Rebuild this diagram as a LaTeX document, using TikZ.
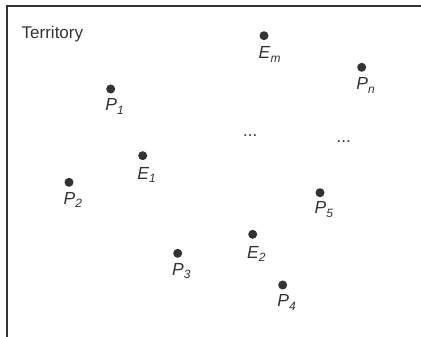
\documentclass[tikz,border=0pt]{standalone}
\usepackage{fontspec}
\setmainfont{Liberation Sans}
\definecolor{ink}{HTML}{333333}
\newcommand\ptlab[2]{\textit{#1}\raisebox{-3.5pt}{\fontsize{12}{12}\selectfont\textit{#2}}}
\begin{document}
\begin{tikzpicture}[x=1pt,y=-1pt,
  dot/.style={circle,fill=ink,inner sep=0pt,minimum size=9pt},
  lab/.style={text=ink,font=\fontsize{17.5}{19}\selectfont,inner sep=0pt,anchor=base west},
  frame/.style={draw=ink,line width=1.2pt}]
\useasboundingbox (0,0) rectangle (421,337);
\coordinate (fa) at (7,337);
\coordinate (fb) at (7,6);
\coordinate (fc) at (421,6);
\draw[frame] (fa) -- (fb) -- (fc);
\node[lab,font=\fontsize{17}{19}\selectfont] (terr) at (21.5,38.5) {Territory};
\node[dot] (Em) at (264,35.7) {};
\node[dot] (Pn) at (361.7,67.3) {};
\node[dot] (P1) at (110.7,89) {};
\node[dot] (E1) at (142.7,155.7) {};
\node[dot] (P2) at (69,182.3) {};
\node[dot] (P5) at (320,192.7) {};
\node[dot] (E2) at (252.7,234.3) {};
\node[dot] (P3) at (177.7,253.3) {};
\node[dot] (P4) at (282.7,285) {};
\node[lab] (Eml) at ([xshift=-5.5pt,yshift=-23pt]Em.center) {\ptlab{E}{m}};
\node[lab] (Pnl) at ([xshift=-5.5pt,yshift=-22.5pt]Pn.center) {\ptlab{P}{n}};
\node[lab] (P1l) at ([xshift=-5.5pt,yshift=-21.5pt]P1.center) {\ptlab{P}{1}};
\node[lab] (E1l) at ([xshift=-5.5pt,yshift=-23.5pt]E1.center) {\ptlab{E}{1}};
\node[lab] (P2l) at ([xshift=-5.5pt,yshift=-22pt]P2.center) {\ptlab{P}{2}};
\node[lab] (P5l) at ([xshift=-5.5pt,yshift=-21pt]P5.center) {\ptlab{P}{5}};
\node[lab] (E2l) at ([xshift=-5.8pt,yshift=-24pt]E2.center) {\ptlab{E}{2}};
\node[lab] (P3l) at ([xshift=-5.8pt,yshift=-21.7pt]P3.center) {\ptlab{P}{3}};
\node[lab] (P4l) at ([xshift=-5.5pt,yshift=-21.5pt]P4.center) {\ptlab{P}{4}};
\node[lab,font=\fontsize{17}{19}\selectfont] (dots1) at (243,136) {...};
\node[lab,font=\fontsize{17}{19}\selectfont] (dots2) at (336.5,142.7) {...};
\end{tikzpicture}
\end{document}
